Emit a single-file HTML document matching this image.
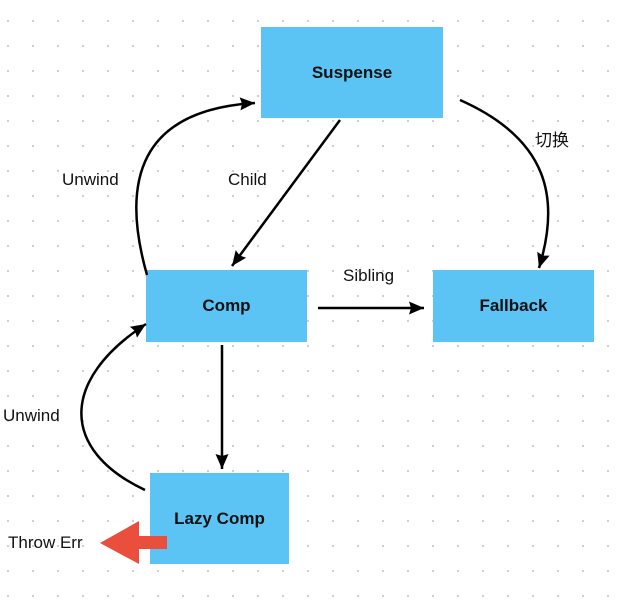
<!DOCTYPE html>
<html><head><meta charset="utf-8"><style>
html,body{margin:0;padding:0;background:#fff}
body{width:632px;height:616px;position:relative;overflow:hidden;font-family:"Liberation Sans","Noto Sans CJK SC",sans-serif;
background-image:radial-gradient(circle,#d0d0d0 1.1px,transparent 1.3px);background-size:25px 25px;background-position:-4.5px 8.5px}
.b{position:absolute;background:#5bc4f5;display:flex;align-items:center;justify-content:center;font-weight:bold;font-size:17px;color:#111}
.t{position:absolute;font-size:17px;color:#111}
</style></head><body>
<div class="b" style="left:261px;top:27px;width:182px;height:91px">Suspense</div>
<div class="b" style="left:146px;top:270px;width:161px;height:72px">Comp</div>
<div class="b" style="left:433px;top:270px;width:161px;height:72px">Fallback</div>
<div class="b" style="left:150px;top:473px;width:139px;height:91px">Lazy Comp</div>
<svg width="632" height="616" style="position:absolute;left:0;top:0">
<defs><marker id="a" markerWidth="16" markerHeight="16" refX="15" refY="8" orient="auto" markerUnits="userSpaceOnUse"><path d="M0,1.5 L15,8 L0,14.5 L2,8 Z" fill="#000"/></marker></defs>
<g stroke="#000" stroke-width="2.5" fill="none">
<path d="M147,275 C120,180 140,110 255,103" marker-end="url(#a)"/>
<path d="M340,120 L232,266" marker-end="url(#a)"/>
<path d="M460,100 C550,140 560,200 539,268" marker-end="url(#a)"/>
<path d="M318,308 L424,308" marker-end="url(#a)"/>
<path d="M222,345 L222,469" marker-end="url(#a)"/>
<path d="M145,490 C60,450 60,380 146,324" marker-end="url(#a)"/>
</g>
<path d="M100,543 L139,521 L139,536 L167,536 L167,549 L139,549 L139,564 Z" fill="#ea4e3d"/>
</svg>
<div class="t" style="left:62px;top:170px">Unwind</div>
<div class="t" style="left:228px;top:170px">Child</div>
<div class="t" style="left:535px;top:126px">切换</div>
<div class="t" style="left:343px;top:266px">Sibling</div>
<div class="t" style="left:3px;top:406px">Unwind</div>
<div class="t" style="left:8px;top:533px">Throw Err</div>
</body></html>
